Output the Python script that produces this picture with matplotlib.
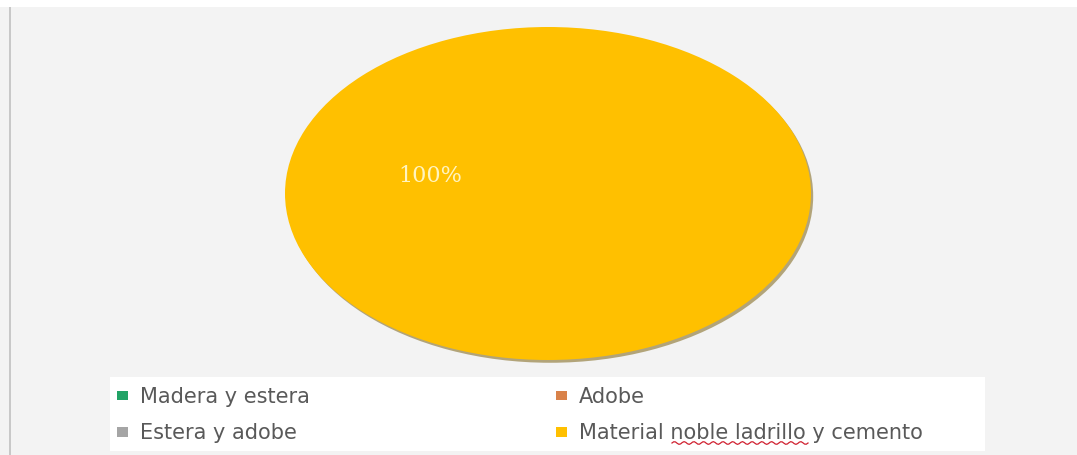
import matplotlib.pyplot as plt
from matplotlib.patches import Rectangle, Patch
import numpy as np

plt.rcParams['font.family'] = ['DejaVu Sans']

# tipo de material de las viviendas (%)
categorias = ['Madera y estera', 'Adobe', 'Estera y adobe',
              'Material noble ladrillo y cemento']
porcentajes = [0, 0, 0, 100]
colores = ['#21a366', '#d9824a', '#a5a5a5', '#ffc000']

fig = plt.figure(figsize=(10.77, 4.55), dpi=100)
fig.patch.set_facecolor('#f3f3f3')

# franja blanca superior, borde izquierdo y fondo de la leyenda
fig.add_artist(Rectangle((0, 1 - 7 / 455), 1, 7 / 455, transform=fig.transFigure,
                         facecolor='white', edgecolor='none'))
fig.add_artist(Rectangle((9 / 1077, 0), 2 / 1077, 1 - 7 / 455, transform=fig.transFigure,
                         facecolor='#c8c8c8', edgecolor='none'))
fig.add_artist(Rectangle((110 / 1077, 4 / 455), 875 / 1077, 74 / 455,
                         transform=fig.transFigure, facecolor='white', edgecolor='none'))

ax = fig.add_axes([285 / 1077, 1 - 360 / 455, 526 / 1077, 333 / 455])
ax.set_facecolor('none')


def etiqueta(p):
    return f'{p:.0f}%' if p > 0 else ''


wedges, textos, autotextos = ax.pie(
    porcentajes, colors=colores, startangle=-13, counterclock=True,
    autopct=etiqueta, pctdistance=0.46, radius=1,
    shadow={'ox': 0.006, 'oy': -0.012, 'shade': 0.55},
    wedgeprops={'linewidth': 0})
for t in autotextos:
    t.set_color('#fff4c0')
    t.set_fontsize(16)
    t.set_family(['DejaVu Serif'])
ax.set_aspect('auto')
ax.set_xlim(-1, 1)
ax.set_ylim(-1, 1)
ax.axis('off')

# leyenda en dos columnas (orden por filas)
orden = [0, 2, 1, 3]
handles = [Patch(facecolor=colores[i], edgecolor='none') for i in orden]
labels = [categorias[i] for i in orden]
leg = fig.legend(handles, labels, ncol=2, loc='upper left',
                 bbox_to_anchor=(117 / 1077, 1 - 387 / 455),
                 frameon=False, fontsize=15, handlelength=0.55, handleheight=0.35,
                 handletextpad=0.55, columnspacing=11.8, labelspacing=0.78,
                 borderaxespad=0, borderpad=0)
for t in leg.get_texts():
    t.set_color('#595959')

# subrayado ondulado del corrector ortográfico bajo "noble ladrillo"
xs = np.linspace(672 / 1077, 808 / 1077, 80)
ys = 1 - 443 / 455 + 0.003 * np.sin(np.linspace(0, 28 * np.pi, 80))
fig.add_artist(plt.Line2D(xs, ys, transform=fig.transFigure, color='#d02030', lw=0.9))

fig.savefig('out.png', dpi=100, facecolor=fig.get_facecolor())
